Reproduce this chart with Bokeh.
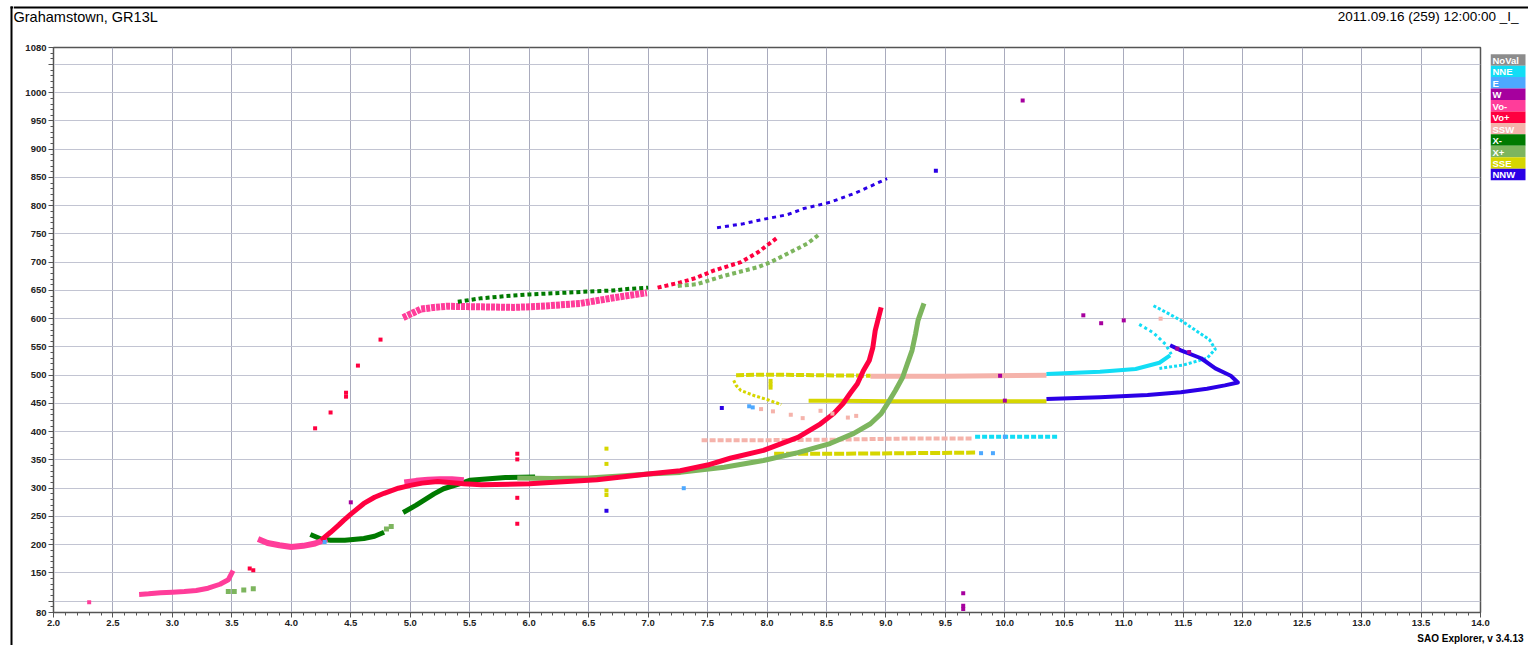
from bokeh.plotting import figure
from bokeh.models import FixedTicker, Range1d, NumeralTickFormatter
from bokeh.layouts import row, column
from bokeh.core.properties import value
from bokeh.embed import file_html
from bokeh.resources import INLINE

# ---------------- data ----------------
title_left = "Grahamstown, GR13L"
title_right = "2011.09.16 (259) 12:00:00 _I_"
footer = "SAO Explorer, v 3.4.13"

x_major = [2.0, 2.5, 3.0, 3.5, 4.0, 4.5, 5.0, 5.5, 6.0, 6.5, 7.0, 7.5, 8.0, 8.5, 9.0,
           9.5, 10.0, 10.5, 11.0, 11.5, 12.0, 12.5, 13.0, 13.5, 14.0]
y_major = [80, 100, 150, 200, 250, 300, 350, 400, 450, 500, 550, 600, 650, 700, 750,
           800, 850, 900, 950, 1000, 1050, 1080]
y_unlabeled = [100, 1050]

legend_names = ["NoVal", "NNE", "E", "W", "Vo-", "Vo+", "SSW", "X-", "X+", "SSE", "NNW"]
legend_colors = ["#8C8C8C", "#12DDF5", "#4DA8FF", "#A6009E", "#FF3D9A", "#FF0040",
                 "#F5B3AB", "#007A00", "#7DB55E", "#D6D600", "#2B00E6"]

# Vo- (ordinary, pink)
vom_e_f = [2.72, 2.8, 2.9, 3.0, 3.1, 3.2, 3.3, 3.4, 3.47, 3.51]
vom_e_h = [112, 113, 115, 116, 117, 119, 123, 130, 138, 154]
vom_f1_f = [3.72, 3.8, 3.9, 4.0, 4.1, 4.2, 4.3]
vom_f1_h = [210, 203, 199, 196, 198, 202, 210]
vom_f1b_f = [4.95, 5.05, 5.15, 5.25, 5.35, 5.45]
vom_f1b_h = [310, 313, 315, 316, 316, 314]
vom_f2_f = [4.94, 5.0, 5.09, 5.2, 5.31, 5.6, 5.87, 6.1, 6.43, 6.71, 6.99]
vom_f2_h = [602, 608, 617, 620, 622, 621, 620, 622, 627, 637, 646]

# Vo+ (red)
vop_f1_f = [4.25, 4.33, 4.4, 4.44, 4.5, 4.61, 4.7, 4.78, 4.9, 5.0, 5.1, 5.23, 5.45, 5.6, 6.0,
            6.57, 7.0, 7.27, 7.5, 7.69, 7.97, 8.26, 8.45, 8.56, 8.64, 8.70, 8.76, 8.81,
            8.86, 8.89, 8.91, 8.96]
vop_f1_h = [208, 222, 235, 243, 254, 273, 284, 291, 300, 305, 309, 312, 308, 306, 308,
            315, 325, 331, 341, 353, 367, 390, 414, 432, 450, 468, 485, 508, 526, 549,
            579, 620]
vop_f2_f = [7.08, 7.27, 7.4, 7.55, 7.78, 7.92, 8.09]
vop_f2_h = [655, 664, 672, 685, 700, 717, 744]
vop_dots_f = [3.65, 3.68, 5.9, 5.9, 5.9, 5.9, 4.2, 4.33, 4.46, 4.46, 4.56, 4.75]
vop_dots_h = [158, 155, 361, 351, 283, 237, 406, 434, 469, 462, 517, 563]

# X- (dark green)
xm_f1_f = [4.16, 4.25, 4.33, 4.45, 4.61, 4.7, 4.78]
xm_f1_h = [218, 210, 208, 208, 211, 215, 222]
xm_f1b_f = [4.94, 5.05, 5.11, 5.2, 5.28, 5.42, 5.5, 5.8, 6.05]
xm_f1b_h = [257, 270, 278, 290, 299, 308, 314, 319, 320]
xm_f2_f = [5.4, 5.59, 5.8, 6.01, 6.3, 6.49, 6.7, 6.85, 7.0]
xm_f2_h = [630, 636, 640, 643, 646, 648, 650, 653, 655]

# X+ (light green)
xp_f1_f = [5.9, 6.2, 6.5, 6.8, 7.0, 7.27, 7.64, 7.97, 8.26, 8.53, 8.73, 8.87, 8.96, 9.02,
           9.08, 9.14, 9.18, 9.22, 9.25, 9.27, 9.32]
xp_f1_h = [318, 317, 318, 322, 325, 328, 337, 349, 363, 379, 397, 414, 432, 452, 473, 496,
           520, 544, 574, 597, 627]
xp_f2_f = [7.25, 7.41, 7.64, 7.92, 8.03, 8.34, 8.45]
xp_f2_h = [658, 661, 676, 691, 700, 733, 751]
xp_dots_f = [3.47, 3.52, 3.6, 3.68, 4.8, 4.84]
xp_dots_h = [117, 117, 120, 122, 228, 232]

# NNW (blue)
nnw_f2_f = [7.58, 7.80, 7.97, 8.17, 8.31, 8.53, 8.75, 9.01]
nnw_f2_h = [761, 768, 776, 784, 795, 806, 823, 848]
nnw_es_f = [10.35, 10.8, 11.2, 11.48, 11.7, 11.85, 11.96, 11.9, 11.77, 11.65, 11.48, 11.39]
nnw_es_h = [458, 461, 465, 470, 476, 482, 487, 499, 512, 530, 544, 553]
nnw_dots_f = [9.42, 6.65, 7.62]
nnw_dots_h = [862, 260, 442]

# NNE (cyan)
nne_es_f = [10.35, 10.8, 11.1, 11.3, 11.39]
nne_es_h = [502, 506, 511, 522, 535]
nne_up_f = [11.25, 11.35, 11.48, 11.6, 11.72, 11.77, 11.7, 11.5, 11.3]
nne_up_h = [623, 612, 597, 580, 563, 546, 530, 518, 512]
nne_b2_f = [11.13, 11.25, 11.35, 11.4]
nne_b2_h = [590, 575, 555, 537]
nne_390_f = [9.75, 10.45]
nne_390_h = [391, 391]

# SSE (yellow)
sse_500_f = [7.74, 8.0, 8.4, 8.87]
sse_500_h = [500, 501, 500, 499]
sse_curve_f = [7.72, 7.74, 7.78, 7.89, 8.0, 8.12]
sse_curve_h = [491, 482, 473, 464, 457, 448]
sse_453_f = [8.35, 8.6, 9.04, 10.35]
sse_453_h = [455, 455, 454, 454]
sse_362_f = [8.06, 8.6, 9.2, 9.75]
sse_362_h = [361, 361, 362, 363]
sse_dots_f = [8.03, 8.03, 8.03, 6.65, 6.65, 6.65, 6.65]
sse_dots_h = [490, 484, 478, 370, 343, 296, 288]

# SSW (light pink)
ssw_500_f = [8.87, 9.5, 10.35]
ssw_500_h = [498, 498, 500]
ssw_386_f = [7.45, 8.0, 8.6, 9.2, 9.72]
ssw_386_h = [385, 385, 386, 388, 388]
ssw_dots_f = [8.2, 8.3, 8.45, 8.55, 8.68, 8.75, 11.31, 7.95, 8.05]
ssw_dots_h = [430, 424, 437, 432, 425, 428, 600, 440, 436]

# W (purple)
w_dots_f = [9.65, 9.65, 9.65, 10.66, 10.81, 11.0, 9.96, 10.0, 10.15, 11.45, 11.55, 4.5]
w_dots_h = [114, 92, 86, 606, 592, 597, 499, 455, 986, 547, 541, 275]

# E (light blue)
e_dots_f = [7.85, 7.88, 9.8, 9.9, 7.3, 4.28, 10.0]
e_dots_h = [445, 443, 362, 362, 300, 205, 391]

# ---------------- helpers ----------------
C = dict(zip(legend_names, legend_colors))
FONT = "Liberation Sans"


def blank(w, h):
    f = figure(width=w, height=h, output_backend="svg", toolbar_location=None,
               x_range=Range1d(0, w), y_range=Range1d(h, 0),
               min_border=0, min_border_left=0, min_border_right=0,
               min_border_top=0, min_border_bottom=0)
    f.axis.visible = False
    f.grid.visible = False
    f.outline_line_color = None
    f.background_fill_color = "white"
    f.border_fill_color = "white"
    return f


# ---------------- left strip (window frame) ----------------
strip = blank(13, 645)
strip.quad(left=[10, 10], right=[12, 13], top=[6, 6], bottom=[645, 8], fill_color="black",
           line_color=None)

# ---------------- header ----------------
head = blank(1515, 40)
head.quad(left=[0], right=[1515], top=[6], bottom=[8], fill_color="black", line_color=None)
head.text(x=[0], y=[16], text=[title_left], text_font=value(FONT), text_font_size="14.5px",
          text_align="left", text_baseline="middle", text_color="black")
head.text(x=[1505], y=[16], text=[title_right], text_font=value(FONT), text_font_size="13.5px",
          text_align="right", text_baseline="middle", text_color="black")

# ---------------- main plot ----------------
p = figure(width=1477, height=592, output_backend="svg", toolbar_location=None,
           x_range=Range1d(2.0, 14.0), y_range=Range1d(80, 1080),
           min_border_left=40, min_border_right=10, min_border_top=7, min_border_bottom=20)
p.background_fill_color = "white"
p.border_fill_color = "white"
p.outline_line_color = "#555555"
p.outline_line_width = 1.5

x_minor = [round(2.0 + 0.1 * i, 1) for i in range(121)]
y_minor = [80 + 10 * i for i in range(101)]
p.xaxis.ticker = FixedTicker(ticks=x_major, minor_ticks=x_minor)
p.yaxis.ticker = FixedTicker(ticks=y_major, minor_ticks=y_minor)
p.xaxis.formatter = NumeralTickFormatter(format="0.0")
p.yaxis.major_label_overrides = {v: "" for v in y_unlabeled}

for ax in (p.xaxis[0], p.yaxis[0]):
    ax.axis_line_color = "#555555"
    ax.major_tick_line_color = "#555555"
    ax.minor_tick_line_color = "#555555"
    ax.major_tick_out = 5
    ax.major_tick_in = 0
    ax.minor_tick_out = 3
    ax.minor_tick_in = 0
    ax.major_label_text_font = FONT
    ax.major_label_text_font_style = "bold"
    ax.major_label_text_font_size = "9.5px"
    ax.major_label_text_color = "#222222"
    ax.major_label_standoff = 2

p.xgrid.grid_line_color = "#A9ABBD"
p.ygrid.grid_line_color = "#C2C4D2"


def trace(fs, hs, name, width=4, dash="solid"):
    p.line(fs, hs, line_color=C[name], line_width=width, line_dash=dash,
           line_cap="butt", line_join="round")


def dots(fs, hs, name, size=4):
    p.scatter(fs, hs, marker="square", size=size, fill_color=C[name], line_color=None)


trace(ssw_386_f, ssw_386_h, "SSW", 4, "6 2")
trace(sse_362_f, sse_362_h, "SSE", 4, "10 2")
trace(nne_390_f, nne_390_h, "NNE", 4, "5 2")
trace(ssw_500_f, ssw_500_h, "SSW", 5)
trace(sse_500_f, sse_500_h, "SSE", 4, "8 2")
trace(sse_curve_f, sse_curve_h, "SSE", 3, "3 2")
trace(sse_453_f, sse_453_h, "SSE", 4)
trace(nne_es_f, nne_es_h, "NNE", 4)
trace(nne_up_f, nne_up_h, "NNE", 3, "3 2")
trace(nne_b2_f, nne_b2_h, "NNE", 3, "3 3")
trace(nnw_es_f, nnw_es_h, "NNW", 4)

trace(vom_e_f, vom_e_h, "Vo-", 5)
trace(xm_f1_f, xm_f1_h, "X-", 5)
trace(xm_f1b_f, xm_f1b_h, "X-", 5)
trace(xp_f1_f, xp_f1_h, "X+", 5)
trace(vom_f1_f, vom_f1_h, "Vo-", 6)
trace(vom_f1b_f, vom_f1b_h, "Vo-", 6)
trace(vop_f1_f, vop_f1_h, "Vo+", 5)

trace(vom_f2_f, vom_f2_h, "Vo-", 7, "4 1")
trace(xm_f2_f, xm_f2_h, "X-", 4, "4 3")
trace(vop_f2_f, vop_f2_h, "Vo+", 4, "4 3")
trace(xp_f2_f, xp_f2_h, "X+", 4, "4 3")
trace(nnw_f2_f, nnw_f2_h, "NNW", 3, "4 4")

dots(vop_dots_f, vop_dots_h, "Vo+")
dots(xp_dots_f, xp_dots_h, "X+", 5)
dots(nnw_dots_f, nnw_dots_h, "NNW")
dots(sse_dots_f, sse_dots_h, "SSE")
dots(ssw_dots_f, ssw_dots_h, "SSW")
dots(w_dots_f, w_dots_h, "W")
dots(e_dots_f, e_dots_h, "E")
dots([2.3], [98], "Vo-")

# ---------------- legend column ----------------
leg = blank(38, 592)
n = len(legend_names)
tops = [7 + 12 * i for i in range(n)]
leg.quad(left=[0] * n, right=[35] * n, top=tops, bottom=[t + 12 for t in tops],
         fill_color=legend_colors, line_color=None)
leg.text(x=[2] * n, y=[t + 6.5 for t in tops], text=legend_names, text_font=value(FONT),
         text_font_size="9.5px", text_font_style="bold", text_color="white",
         text_align="left", text_baseline="middle")

# ---------------- footer ----------------
foot = blank(1515, 13)
foot.text(x=[1510], y=[6], text=[footer], text_font=value(FONT), text_font_size="10px",
          text_font_style="bold", text_color="black", text_align="right",
          text_baseline="middle")

layout = row(strip, column(head, row(p, leg), foot))
open("out.html", "w").write(file_html(layout, INLINE))
